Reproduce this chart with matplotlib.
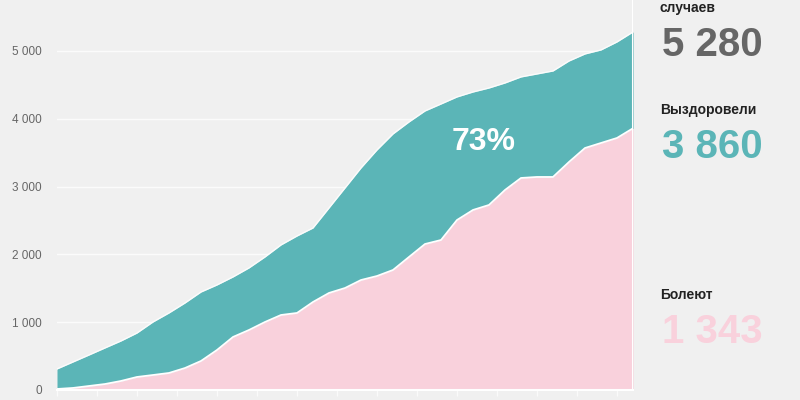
import numpy as np
import matplotlib.pyplot as plt

plt.rcParams['font.family'] = ['Liberation Sans', 'DejaVu Sans']

# days since start, every 2 days
days = list(range(0, 73, 2))
total_cases = [310, 413, 516, 620, 723, 840, 1003, 1136, 1283, 1445,
               1549, 1667, 1800, 1962, 2139, 2271, 2389, 2684, 2979, 3274,
               3540, 3776, 3953, 4115, 4218, 4322, 4395, 4454, 4528, 4617,
               4661, 4705, 4852, 4956, 5015, 5133, 5280]
recovered = [15, 30, 59, 88, 133, 192, 221, 251, 324, 428,
             590, 782, 885, 1003, 1106, 1136, 1298, 1431, 1504, 1622,
             1681, 1770, 1962, 2153, 2212, 2507, 2655, 2729, 2950, 3127,
             3142, 3142, 3363, 3569, 3643, 3717, 3860]
y_ticks = [0, 1000, 2000, 3000, 4000, 5000]
y_labels = ['0', '1 000', '2 000', '3 000', '4 000', '5 000']

bg = '#f0f0f0'
teal = '#5bb5b7'
pink = '#f9d1dc'

fig = plt.figure(figsize=(8, 4), dpi=100, facecolor=bg)
ax = fig.add_axes([57 / 800, 10 / 400, 576 / 800, 390 / 400])
ax.set_facecolor(bg)

ax.fill_between(days, recovered, total_cases, color=teal, lw=0, zorder=2)
ax.fill_between(days, 0, recovered, color=pink, lw=0, zorder=2)
ax.plot(days, recovered, color='white', lw=1.3, zorder=3)
ax.plot(days, total_cases, color='white', lw=1.0, alpha=0.8, zorder=3)
ax.axvline(days[-1], color='white', lw=1.5, zorder=3)

ax.set_xlim(0, 72)
ax.set_ylim(0, 5752)
ax.set_yticks(y_ticks)
ax.set_yticklabels(y_labels, fontsize=8.5, color='#666666')
ax.set_xticks(range(0, 73, 5))
ax.set_xticklabels([])
ax.tick_params(axis='y', length=0, pad=11)
ax.tick_params(axis='x', length=4, color='#fafafa', width=1)
ax.grid(axis='y', color='#fbfbfb', lw=1, zorder=1)
for s in ['top', 'right', 'left']:
    ax.spines[s].set_visible(False)
ax.spines['bottom'].set_color('white')
ax.spines['bottom'].set_linewidth(1.5)

ax.text(0.74, 0.636, '73%', transform=ax.transAxes, ha='center', va='center',
        fontsize=23, fontweight='bold', color='white', zorder=4)

fig.text(660 / 800, 1 - 8 / 400, 'случаев', fontsize=10, fontweight='bold',
         color='#222222', va='center', ha='left')
fig.text(662 / 800, 1 - 45 / 400, '5 280', fontsize=29, fontweight='bold',
         color='#666666', va='center', ha='left')
fig.text(660 / 800, 1 - 110 / 400, 'Выздоровели', fontsize=10, fontweight='bold',
         color='#222222', va='center', ha='left')
fig.text(662 / 800, 1 - 147 / 400, '3 860', fontsize=29, fontweight='bold',
         color=teal, va='center', ha='left')
fig.text(660 / 800, 1 - 295 / 400, 'Болеют', fontsize=10, fontweight='bold',
         color='#222222', va='center', ha='left')
fig.text(662 / 800, 1 - 332 / 400, '1 343', fontsize=29, fontweight='bold',
         color=pink, va='center', ha='left')

fig.savefig('out.png', dpi=100, facecolor=bg)
